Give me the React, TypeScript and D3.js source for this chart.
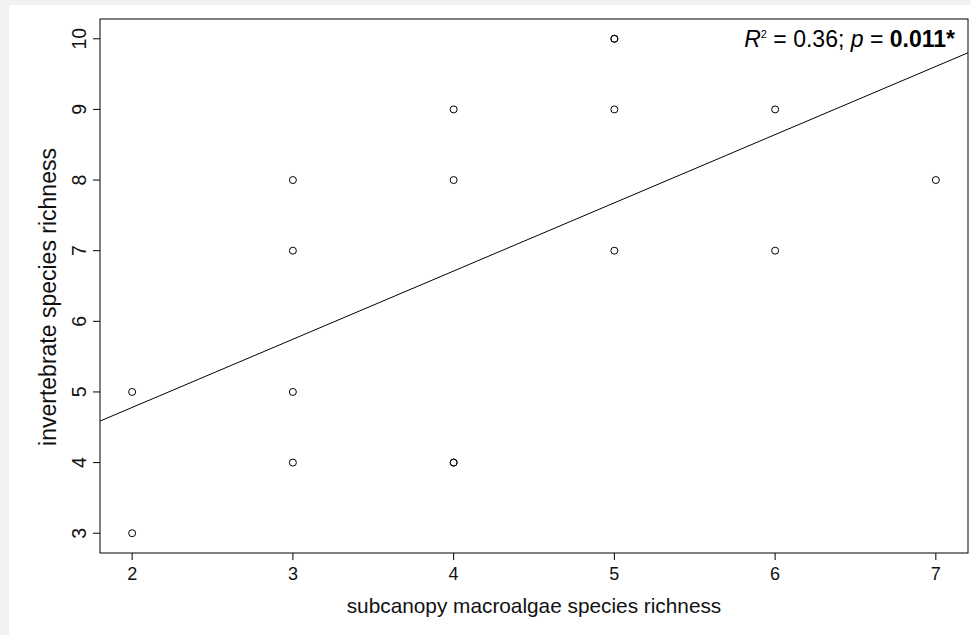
import React from "react";
import * as d3 from "d3";

const width = 971;
const height = 635;
const margin = {left: 100, top: 19, right: 3, bottom: 82};

// subcanopy macroalgae richness vs invertebrate richness (duplicates kept)
const algaeRichness = [2, 2, 3, 3, 3, 3, 4, 4, 4, 4, 5, 5, 5, 5, 6, 6, 7];
const invertRichness = [3, 5, 4, 5, 7, 8, 4, 4, 8, 9, 7, 9, 10, 10, 7, 9, 8];
const xTicks = [2, 3, 4, 5, 6, 7];
const yTicks = [3, 4, 5, 6, 7, 8, 9, 10];

const font = "'Liberation Sans', Arial, Helvetica, sans-serif";

function App() {
    const x = d3.scaleLinear().domain([1.8, 7.2]).range([margin.left, width - margin.right]);
    const y = d3.scaleLinear().domain([2.72, 10.28]).range([height - margin.bottom, margin.top]);

    // least squares fit
    const mx = d3.mean(algaeRichness) as number;
    const my = d3.mean(invertRichness) as number;
    let sxy = 0, sxx = 0;
    algaeRichness.forEach((v, i) => {
        sxy += (v - mx) * (invertRichness[i] - my);
        sxx += (v - mx) * (v - mx);
    });
    const slope = sxy / sxx;
    const intercept = my - slope * mx;
    const [x0, x1] = x.domain();
    const fitLine = d3.line<number>().x(d => x(d)).y(d => y(intercept + slope * d));

    const x0px = x.range()[0], x1px = x.range()[1];
    const y0px = y.range()[0], y1px = y.range()[1];

    return (
        <svg width={width} height={height} style={{position: "absolute", left: 0, top: 0}}>
            <rect x={0} y={0} width={width} height={height} fill="#f2f2f2"/>
            <rect x={9} y={5} width={width - 9} height={height - 5} fill="#ffffff"/>
            <defs>
                <clipPath id="plotclip">
                    <rect x={x0px} y={y1px} width={x1px - x0px} height={y0px - y1px}/>
                </clipPath>
            </defs>
            <rect x={x0px} y={y1px} width={x1px - x0px} height={y0px - y1px}
                  fill="none" stroke="#000" strokeWidth={1}/>

            {xTicks.map(t => (
                <g key={"x" + t}>
                    <line x1={x(t)} x2={x(t)} y1={y0px} y2={y0px + 7} stroke="#000"/>
                    <text x={x(t)} y={580} textAnchor="middle" fontFamily={font}
                          fontSize={18} fill="#111">{t}</text>
                </g>
            ))}
            {yTicks.map(t => (
                <g key={"y" + t}>
                    <line x1={x0px - 7} x2={x0px} y1={y(t)} y2={y(t)} stroke="#000"/>
                    <text transform={`translate(86,${y(t)}) rotate(-90)`} textAnchor="middle"
                          fontFamily={font} fontSize={19.5} fill="#111">{t}</text>
                </g>
            ))}

            <path d={fitLine([x0, x1]) as string} stroke="#000" strokeWidth={1} fill="none"
                  clipPath="url(#plotclip)"/>

            {algaeRichness.map((v, i) => (
                <circle key={i} cx={x(v)} cy={y(invertRichness[i])} r={3.5}
                        fill="none" stroke="#000" strokeWidth={1}/>
            ))}

            <text x={955} y={46.5} textAnchor="end" fontFamily={font} fontSize={23} fill="#000">
                <tspan fontStyle="italic">R</tspan>
                <tspan fontSize={11} dy={-9}>2</tspan>
                <tspan dy={9}> = 0.36; </tspan>
                <tspan fontStyle="italic">p</tspan>
                <tspan> = </tspan>
                <tspan fontWeight="bold">0.011*</tspan>
            </text>

            <text x={(x0px + x1px) / 2} y={613} textAnchor="middle" fontFamily={font}
                  fontSize={20.8} fill="#111">subcanopy macroalgae species richness</text>
            <text transform={`translate(56,297) rotate(-90)`} textAnchor="middle"
                  fontFamily={font} fontSize={23} fill="#111">invertebrate species richness</text>
        </svg>
    );
}

export default App;
